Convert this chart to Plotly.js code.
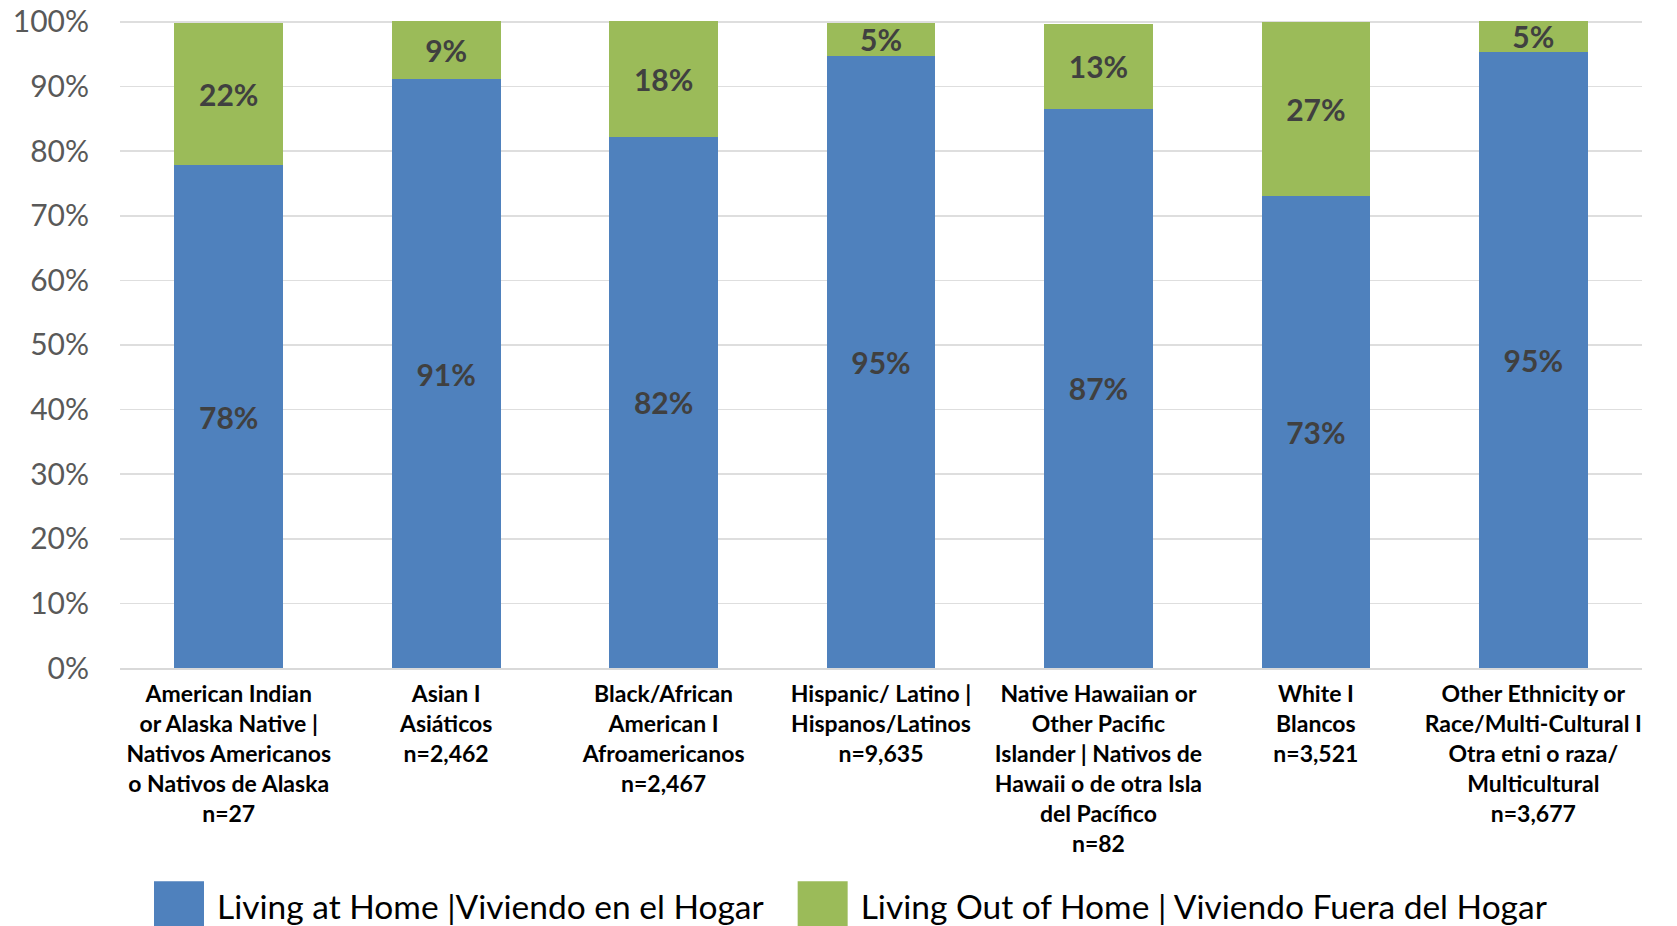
<!DOCTYPE html>
<html>
<head>
<meta charset="utf-8">
<script src="https://cdn.plot.ly/plotly-3.0.1.min.js"></script>
<style>
  html, body { margin: 0; padding: 0; background: #ffffff; }
  #chart { width: 1677px; height: 926px; }
</style>
</head>
<body>
<div id="chart"></div>
<script>
const categories = [
  "American Indian<br>or Alaska Native |<br>Nativos Americanos<br>o Nativos de Alaska<br>n=27",
  "Asian I<br>Asiáticos<br>n=2,462",
  "Black/African<br>American I<br>Afroamericanos<br>n=2,467",
  "Hispanic/ Latino |<br>Hispanos/Latinos<br>n=9,635",
  "Native Hawaiian or<br>Other Pacific<br>Islander | Nativos de<br>Hawaii o de otra Isla<br>del Pacífico<br>n=82",
  "White I<br>Blancos<br>n=3,521",
  "Other Ethnicity or<br>Race/Multi-Cultural I<br>Otra etni o raza/<br>Multicultural<br>n=3,677"
];
const livingAtHome = [77.8, 91.1, 82.2, 94.8, 86.6, 73.1, 95.3];
const livingOutOfHome = [22.1, 9.0, 18.0, 5.0, 13.1, 26.9, 4.9];
const seriesNames = ["Living at Home |Viviendo en el Hogar", "Living Out of Home | Viviendo Fuera del Hogar"];
const yTickVals = [0, 10, 20, 30, 40, 50, 60, 70, 80, 90, 100];
const yTickText = ["0%", "10%", "20%", "30%", "40%", "50%", "60%", "70%", "80%", "90%", "100%"];

const xIdx = categories.map((c, i) => i);
const FONT = "Lato, 'Open Sans', sans-serif";
const labelFont = { family: FONT, size: 30, color: "#404040", weight: 700 };

const traces = [
  {
    type: "bar", name: seriesNames[0], x: xIdx, y: livingAtHome,
    marker: { color: "#4F81BD" },
    texttemplate: "<b>%{y:.0f}%</b>", textposition: "inside", insidetextanchor: "middle",
    textfont: labelFont, cliponaxis: false, hoverinfo: "skip"
  },
  {
    type: "bar", name: seriesNames[1], x: xIdx, y: livingOutOfHome,
    marker: { color: "#9BBB59" },
    texttemplate: "<b>%{y:.0f}%</b>", textposition: "inside", insidetextanchor: "middle",
    textfont: labelFont, cliponaxis: false, hoverinfo: "skip"
  }
];

const LEG_ITEMW = 82;
const layout = {
  width: 1677, height: 926,
  barmode: "stack", bargap: 0.5,
  margin: { l: 120, r: 35, t: 20, b: 258 },
  paper_bgcolor: "#ffffff", plot_bgcolor: "#ffffff",
  font: { family: FONT, color: "#000000" },
  uniformtext: { mode: "show", minsize: 30 },
  xaxis: {
    tickmode: "array", tickvals: xIdx, ticktext: categories,
    range: [-0.5, categories.length - 0.5],
    tickfont: { family: FONT, size: 23, color: "#000000", weight: 700 },
    showgrid: false, zeroline: false,
    showline: true, linecolor: "#D9D9D9", linewidth: 1.5,
    ticks: "", ticklabelstandoff: 5, automargin: false
  },
  yaxis: {
    range: [0, 100.3], tickmode: "array", tickvals: yTickVals, ticktext: yTickText,
    tickfont: { family: FONT, size: 30, color: "#595959" },
    showgrid: true, gridcolor: "#DEDEDE", gridwidth: 1.5,
    zeroline: false, showline: false, ticks: "", ticklabelstandoff: 30, automargin: false
  },
  showlegend: true,
  legend: {
    orientation: "h", xref: "container", yref: "container",
    x: 0.5, xanchor: "center", y: 0.021, yanchor: "middle",
    font: { family: FONT, size: 33.5, color: "#000000" },
    itemwidth: LEG_ITEMW, itemclick: false, itemdoubleclick: false,
    traceorder: "normal", bgcolor: "rgba(0,0,0,0)"
  }
};

Plotly.newPlot("chart", traces, layout, { staticPlot: true, displayModeBar: false }).then(function (gd) {
  // enlarge legend swatches and place them just left of their text
  const textX = LEG_ITEMW + 10;
  const side = 50;
  const cx = textX - 13 - side / 2;
  gd.querySelectorAll(".legend .legendpoints path").forEach(function (p) {
    p.setAttribute("transform", "translate(" + cx + ",0) scale(" + (side / 12) + ")");
  });
});
</script>
</body>
</html>
